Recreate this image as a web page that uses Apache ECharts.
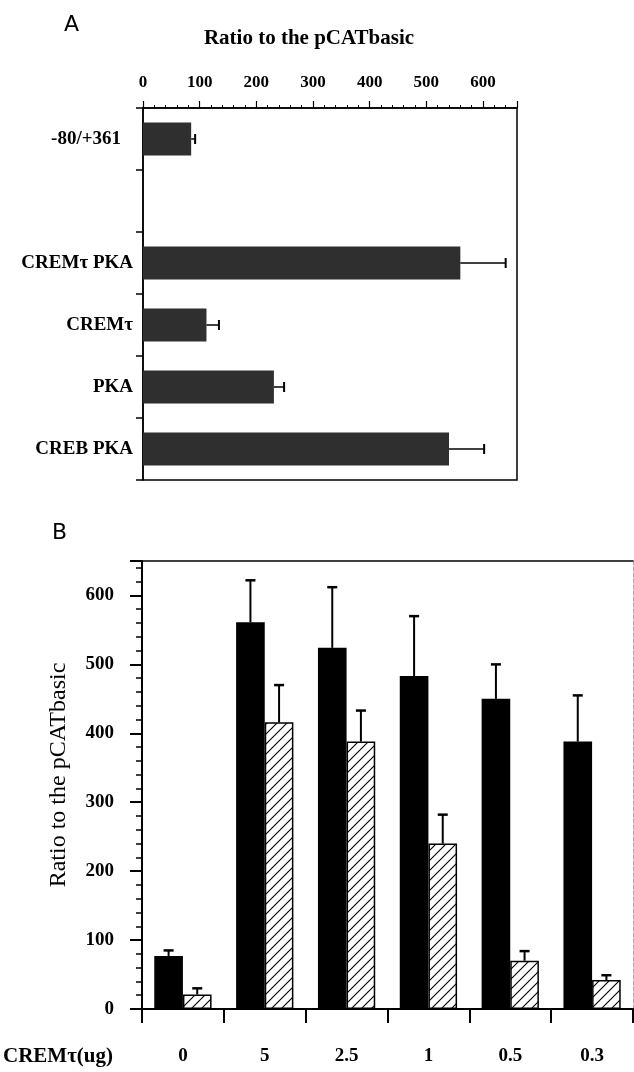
<!DOCTYPE html>
<html>
<head>
<meta charset="utf-8">
<script src="https://cdn.jsdelivr.net/npm/echarts@6/dist/echarts.min.js"></script>
<style>
html,body{margin:0;padding:0;background:#fff;}
#chart{width:634px;height:1072px;}
</style>
</head>
<body>
<div id="chart"></div>
<script>
// ---------- Panel A data ----------
const catsA = ['-80/+361', '', 'CREMτ PKA', 'CREMτ', 'PKA', 'CREB PKA'];
const valsA = [85, null, 560, 112, 231, 540];
const errA  = [7, null, 80, 22, 18, 62];
const ticksA = [0, 100, 200, 300, 400, 500, 600];

// ---------- Panel B data ----------
const catsB = ['0', '5', '2.5', '1', '0.5', '0.3'];
const solidB    = [77, 561, 524, 483, 450, 388];
const solidErrB = [8, 61, 88, 87, 50, 67];
const hatchB    = [21, 416, 388, 240, 70, 42];
const hatchErrB = [9, 54, 45, 42, 14, 7];

const serif = '"Liberation Serif", "DejaVu Serif", serif';
const sans = '"DejaVu Sans", "Liberation Sans", sans-serif';

function makeHatch() {
  const s = 10;
  const c = document.createElement('canvas');
  c.width = s; c.height = s;
  const g = c.getContext('2d');
  g.fillStyle = '#fff';
  g.fillRect(0, 0, s, s);
  g.strokeStyle = '#000';
  g.lineWidth = 1.1;
  g.beginPath();
  g.moveTo(0, s); g.lineTo(s, 0);
  g.moveTo(-2, 2); g.lineTo(2, -2);
  g.moveTo(s - 2, s + 2); g.lineTo(s + 2, s - 2);
  g.stroke();
  return c;
}

const errDataA = [];
valsA.forEach((v, i) => { if (v != null) errDataA.push([i, v, errA[i]]); });
const errDataB = [];
solidB.forEach((v, i) => errDataB.push([i, v, solidErrB[i], -1]));
hatchB.forEach((v, i) => errDataB.push([i, v, hatchErrB[i], 1]));

const chart = echarts.init(document.getElementById('chart'), null, {renderer: 'canvas'});

const option = {
  backgroundColor: '#fff',
  animation: false,
  graphic: [
    {type: 'text', left: 64, top: 14, style: {text: 'A', font: '22px ' + sans, fill: '#000'}},
    {type: 'text', left: 52, top: 522, style: {text: 'B', font: '22px ' + sans, fill: '#000'}},
    {type: 'text', x: 309, y: 39, style: {text: 'Ratio to the pCATbasic', font: 'bold 21px ' + serif, fill: '#000', textAlign: 'center', textVerticalAlign: 'middle'}},
    {type: 'text', x: 59, y: 775, rotation: Math.PI / 2, style: {text: 'Ratio to the pCATbasic', font: '24px ' + serif, fill: '#000', textAlign: 'center', textVerticalAlign: 'middle'}},
    {type: 'text', x: 3, y: 1057, style: {text: 'CREMτ(ug)', font: 'bold 21px ' + serif, fill: '#000', textAlign: 'left', textVerticalAlign: 'middle'}}
  ],
  grid: [
    {left: 143, right: 117, top: 108, height: 372, show: true, borderColor: '#000', borderWidth: 1.5, backgroundColor: 'transparent'},
    {left: 142, right: 1, top: 561, height: 448, show: false}
  ],
  xAxis: [
    {
      gridIndex: 0, type: 'value', position: 'top', min: 0, max: 660, interval: 100,
      axisLine: {show: true, lineStyle: {color: '#000', width: 1.5}},
      axisTick: {show: true, length: 7, lineStyle: {color: '#000', width: 1.2}},
      minorTick: {show: true, splitNumber: 5, length: 3, lineStyle: {color: '#000', width: 1}},
      axisLabel: {show: true, margin: 17, fontFamily: serif, fontWeight: 'bold', fontSize: 17, color: '#000',
        formatter: v => (ticksA.indexOf(v) >= 0 ? String(v) : '')},
      splitLine: {show: false}, minorSplitLine: {show: false}
    },
    {
      gridIndex: 1, type: 'category', data: catsB, position: 'bottom',
      axisLine: {show: true, onZero: false, lineStyle: {color: '#000', width: 2}},
      axisTick: {show: true, length: 14, lineStyle: {color: '#000', width: 2}},
      axisLabel: {show: true, margin: 38, fontFamily: serif, fontWeight: 'bold', fontSize: 19, color: '#000'},
      splitLine: {show: false}
    },
    {
      gridIndex: 1, type: 'category', data: catsB, position: 'top',
      axisLine: {show: true, onZero: false, lineStyle: {color: '#000', width: 1.5}},
      axisTick: {show: false}, axisLabel: {show: false}, splitLine: {show: false}
    }
  ],
  yAxis: [
    {
      gridIndex: 0, type: 'category', data: catsA, inverse: true,
      axisLine: {show: true, lineStyle: {color: '#000', width: 1.5}},
      axisTick: {show: true, length: 7, lineStyle: {color: '#000', width: 1.5}},
      axisLabel: {show: true, margin: 10, fontFamily: serif, fontWeight: 'bold', fontSize: 19, color: '#000',
        formatter: (v, i) => (i === 0 ? '{p|' + v + '}' : v),
        rich: {p: {fontFamily: serif, fontWeight: 'bold', fontSize: 19, color: '#000', padding: [0, 12, 0, 0]}}},
      splitLine: {show: false}
    },
    {
      gridIndex: 1, type: 'value', min: 0, max: 650, interval: 100,
      axisLine: {show: true, lineStyle: {color: '#000', width: 2}},
      axisTick: {show: true, length: 12, lineStyle: {color: '#000', width: 2}},
      minorTick: {show: true, splitNumber: 5, length: 6, lineStyle: {color: '#000', width: 1.5}},
      axisLabel: {show: true, margin: 28, fontFamily: serif, fontWeight: 'bold', fontSize: 19, color: '#000',
        formatter: v => (v % 100 === 0 && v <= 600 ? String(v) : '')},
      splitLine: {show: false}, minorSplitLine: {show: false}
    },
    {
      gridIndex: 1, type: 'value', min: 0, max: 650, position: 'right',
      axisLine: {show: true, lineStyle: {color: '#aaa', width: 1, type: 'dashed'}},
      axisTick: {show: false}, axisLabel: {show: false}, splitLine: {show: false}
    }
  ],
  series: [
    {
      type: 'bar', xAxisIndex: 0, yAxisIndex: 0, data: valsA, barWidth: '53%',
      itemStyle: {color: '#2f2f2f'}
    },
    {
      type: 'custom', xAxisIndex: 0, yAxisIndex: 0, data: errDataA,
      encode: {x: 1, y: 0},
      renderItem: function (params, api) {
        const cat = api.value(0), v = api.value(1), e = api.value(2);
        const p0 = api.coord([v, cat]);
        const p1 = api.coord([v + e, cat]);
        const h = 5;
        return {type: 'group', children: [
          {type: 'line', shape: {x1: p0[0], y1: p0[1], x2: p1[0], y2: p1[1]}, style: {stroke: '#000', lineWidth: 1.5}},
          {type: 'line', shape: {x1: p1[0], y1: p1[1] - h, x2: p1[0], y2: p1[1] + h}, style: {stroke: '#000', lineWidth: 2}}
        ]};
      },
      z: 3
    },
    {
      type: 'bar', xAxisIndex: 1, yAxisIndex: 1, data: solidB, barWidth: '35%', barGap: '0%',
      itemStyle: {color: '#000'}
    },
    {
      type: 'bar', xAxisIndex: 1, yAxisIndex: 1, data: hatchB, barWidth: '35%', barGap: '0%',
      itemStyle: {color: {image: makeHatch(), repeat: 'repeat'}, borderColor: '#000', borderWidth: 1.5}
    },
    {
      type: 'custom', xAxisIndex: 1, yAxisIndex: 1, data: errDataB,
      encode: {x: 0, y: 1},
      renderItem: function (params, api) {
        const cat = api.value(0), v = api.value(1), e = api.value(2), side = api.value(3);
        const band = api.size([1, 0])[0];
        const p0 = api.coord([cat, v]);
        const p1 = api.coord([cat, v + e]);
        const x = p0[0] + side * 0.175 * band;
        const w = 5;
        return {type: 'group', children: [
          {type: 'line', shape: {x1: x, y1: p0[1], x2: x, y2: p1[1]}, style: {stroke: '#000', lineWidth: 2}},
          {type: 'line', shape: {x1: x - w, y1: p1[1], x2: x + w, y2: p1[1]}, style: {stroke: '#000', lineWidth: 2.5}}
        ]};
      },
      z: 3
    }
  ]
};
chart.setOption(option);
</script>
</body>
</html>
